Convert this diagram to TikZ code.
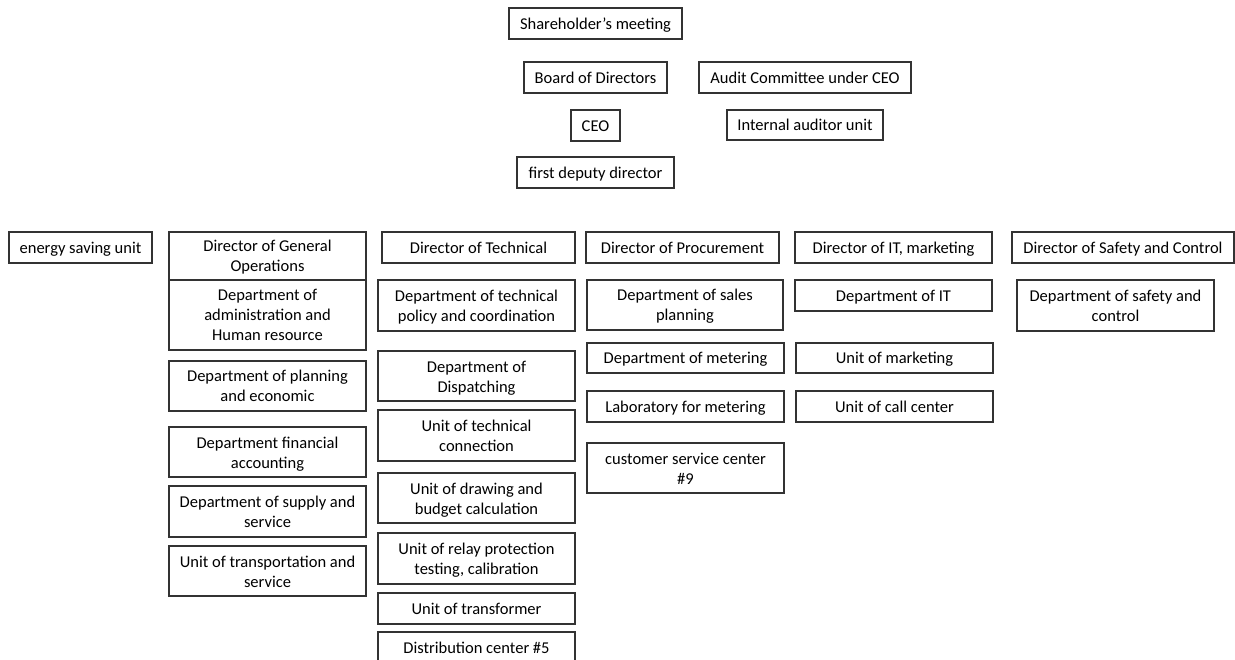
\documentclass[tikz,border=0pt]{standalone}
\usepackage{fontspec}
\setmainfont{Carlito}
\newcommand\ls{\rule[-4pt]{0pt}{20pt}}
\begin{document}
\begin{tikzpicture}[x=1pt,y=-1pt,
  box/.style={draw=black!80, line width=1.2pt, fill=white, inner sep=0pt, align=center,
    font=\fontsize{16.5}{20}\selectfont}]
\useasboundingbox (0,0) rectangle (1235,660);
\clip (0,0) rectangle (1235,660);
% top
\node[box, minimum width=173pt, minimum height=31pt] (share) at (595.5,23.5) {\ls Shareholder’s meeting};
\node[box, minimum width=143pt, minimum height=31pt] (board) at (595.5,77.5) {\ls Board of Directors};
\node[box, minimum width=212pt, minimum height=31pt] (audit) at (805,77.5) {\ls Audit Committee under CEO};
\node[box, minimum width=49pt, minimum height=31pt] (ceo) at (595.5,125.5) {\ls CEO};
\node[box, minimum width=156pt, minimum height=30pt] (internal) at (805,125) {\ls Internal auditor unit};
\node[box, minimum width=157pt, minimum height=31pt] (fdd) at (595.5,172.5) {\ls first deputy director};
% energy
\node[box, minimum width=143pt, minimum height=31pt] (energy) at (80.5,247.5) {\ls energy saving unit};
% general operations
\node[box, minimum width=197pt, minimum height=48pt] (dgo) at (267.5,256) {\ls Director of General\\\ls Operations};
\node[box, minimum width=197pt, minimum height=70pt] (dahr) at (267.5,315) {\ls Department of\\\ls administration and\\\ls Human resource};
\node[box, minimum width=197pt, minimum height=50pt] (dpe) at (267.5,386) {\ls Department of planning\\\ls and economic};
\node[box, minimum width=197pt, minimum height=50pt] (dfa) at (267.5,452) {\ls Department financial\\\ls accounting};
\node[box, minimum width=197pt, minimum height=51pt] (dss) at (267.5,511.5) {\ls Department of supply and\\\ls service};
\node[box, minimum width=197pt, minimum height=50pt] (uts) at (267.5,571) {\ls Unit of transportation and\\\ls service};
% technical
\node[box, minimum width=193pt, minimum height=31pt] (dtech) at (478.5,247.5) {\ls Director of Technical};
\node[box, minimum width=197pt, minimum height=51pt] (dtpc) at (476.5,305.5) {\ls Department of technical\\\ls policy and coordination};
\node[box, minimum width=197pt, minimum height=50pt] (ddisp) at (476.5,376) {\ls Department of\\\ls Dispatching};
\node[box, minimum width=197pt, minimum height=51pt] (utc) at (476.5,435.5) {\ls Unit of technical\\\ls connection};
\node[box, minimum width=197pt, minimum height=50pt] (udb) at (476.5,498) {\ls Unit of drawing and\\\ls budget calculation};
\node[box, minimum width=197pt, minimum height=51pt] (urp) at (476.5,558.5) {\ls Unit of relay protection\\\ls testing, calibration};
\node[box, minimum width=197pt, minimum height=31pt] (utr) at (476.5,608.5) {\ls Unit of transformer};
\node[box, minimum width=197pt, minimum height=31pt] (dc5) at (476.5,647.5) {\ls Distribution center \#5};
% procurement
\node[box, minimum width=193pt, minimum height=31pt] (dproc) at (682.5,247.5) {\ls Director of Procurement};
\node[box, minimum width=196pt, minimum height=50pt] (dsp) at (685,305) {\ls Department of sales\\\ls planning};
\node[box, minimum width=197pt, minimum height=30pt] (dmet) at (685.5,358) {\ls Department of metering};
\node[box, minimum width=197pt, minimum height=31pt] (lab) at (685.5,406.5) {\ls Laboratory for metering};
\node[box, minimum width=197pt, minimum height=50pt] (csc) at (685.5,468) {\ls customer service center\\\ls \#9};
% IT
\node[box, minimum width=197pt, minimum height=31pt] (dit) at (893.5,247.5) {\ls Director of IT, marketing};
\node[box, minimum width=197pt, minimum height=31pt] (deptit) at (893.5,295.5) {\ls Department of IT};
\node[box, minimum width=197pt, minimum height=30pt] (umkt) at (894.5,358) {\ls Unit of marketing};
\node[box, minimum width=197pt, minimum height=31pt] (ucc) at (894.5,406.5) {\ls Unit of call center};
% safety
\node[box, minimum width=222pt, minimum height=31pt] (dsc) at (1123,247.5) {\ls Director of Safety and Control};
\node[box, minimum width=197pt, minimum height=51pt] (dsafe) at (1115.5,305.5) {\ls Department of safety and\\\ls control};
\end{tikzpicture}
\end{document}
